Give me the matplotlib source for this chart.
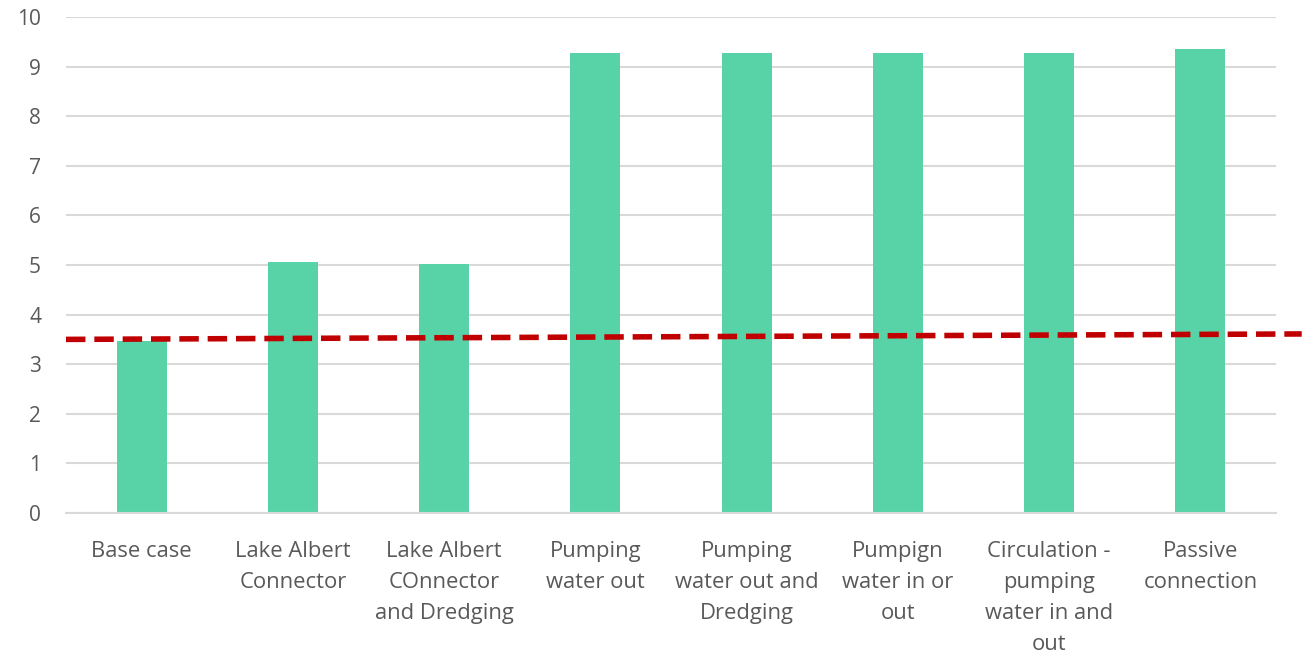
import matplotlib.pyplot as plt

# categories and values
labels = [
    "Base case",
    "Lake Albert\nConnector",
    "Lake Albert\nCOnnector\nand Dredging",
    "Pumping\nwater out",
    "Pumping\nwater out and\nDredging",
    "Pumpign\nwater in or\nout",
    "Circulation -\npumping\nwater in and\nout",
    "Passive\nconnection",
]
values = [3.47, 5.07, 5.02, 9.27, 9.27, 9.27, 9.27, 9.36]

# dashed reference line (runs slightly past the plot area on the right)
ref_x = [-0.5, 7.67]
ref_y = [3.50, 3.61]

plt.rcParams['font.family'] = ['Open Sans', 'DejaVu Sans']
text_col = '#595959'

fig = plt.figure(figsize=(13.12, 6.55), dpi=100)
ax = fig.add_axes([66 / 1312, 1 - 513 / 655, 1210 / 1312, 496 / 655])

x = list(range(len(labels)))
ax.bar(x, values, width=0.33, color='#57D3A7', zorder=2)
ax.plot(ref_x, ref_y, color='#C00000', lw=4, dashes=(3.5, 1.6),
        clip_on=False, zorder=3)

ax.set_xlim(-0.5, len(labels) - 0.5)
ax.set_ylim(0, 10)
ax.set_yticks(range(0, 11))
ax.set_xticks(x)
ax.set_xticklabels(labels, linespacing=1.63)
ax.tick_params(axis='both', length=0, labelsize=15, colors=text_col)
ax.tick_params(axis='x', pad=20, labelsize=15.8)
ax.tick_params(axis='y', pad=18)

ax.grid(axis='y', color='#D9D9D9', lw=1.5, zorder=0)
for s in ['top', 'right', 'left']:
    ax.spines[s].set_visible(False)
ax.spines['bottom'].set_color('#D9D9D9')
ax.spines['bottom'].set_linewidth(1.5)

fig.savefig('out.png', dpi=100)
